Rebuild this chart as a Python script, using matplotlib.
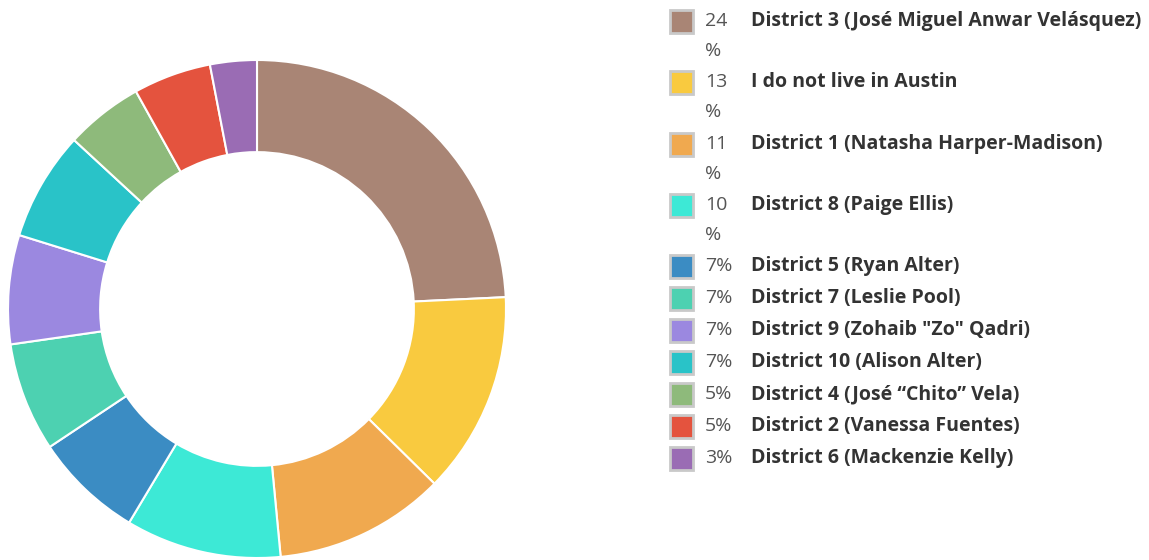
import matplotlib
matplotlib.use("Agg")
import matplotlib.pyplot as plt
from matplotlib.patches import Rectangle

plt.rcParams["font.family"] = ["Open Sans", "DejaVu Sans"]

# data
labels = [
    "District 3 (José Miguel Anwar Velásquez)",
    "I do not live in Austin",
    "District 1 (Natasha Harper-Madison)",
    "District 8 (Paige Ellis)",
    "District 5 (Ryan Alter)",
    "District 7 (Leslie Pool)",
    'District 9 (Zohaib "Zo" Qadri)',
    "District 10 (Alison Alter)",
    "District 4 (José “Chito” Vela)",
    "District 2 (Vanessa Fuentes)",
    "District 6 (Mackenzie Kelly)",
]
values = [24, 13, 11, 10, 7, 7, 7, 7, 5, 5, 3]
colors = [
    "#a98575", "#f9ca3f", "#f0a94f", "#3de9d6", "#3b8cc3", "#4dd1b1",
    "#9b88e0", "#29c3c8", "#8eba7b", "#e4533e", "#9a6cb4",
]

W, H = 1149, 560
fig = plt.figure(figsize=(W / 100, H / 100), dpi=100)

# donut
cx, cy, r = 257, 251, 249
ax = fig.add_axes([(cx - r) / W, (cy - r) / H, 2 * r / W, 2 * r / H])
ax.pie(values, colors=colors, startangle=90, counterclock=False,
       wedgeprops=dict(width=0.37, edgecolor="white", linewidth=1.5))
ax.set_xlim(-1, 1)
ax.set_ylim(-1, 1)
ax.set_aspect("equal")
ax.axis("off")

# legend drawn in pixel coordinates
lg = fig.add_axes([0, 0, 1, 1])
lg.set_xlim(0, W)
lg.set_ylim(H, 0)
lg.axis("off")

fs = 14
y = 21
for lab, v, c in zip(labels, values, colors):
    lg.add_patch(Rectangle((670, y - 11), 23, 23, facecolor=c,
                           edgecolor="#c9c9c9", linewidth=2))
    wrapped = v >= 10
    if wrapped:
        lg.text(705, y, f"{v}", fontsize=fs, color="#555555", va="center")
        lg.text(705, y + 30, "%", fontsize=fs, color="#555555", va="center")
    else:
        lg.text(705, y, f"{v}%", fontsize=fs, color="#555555", va="center")
    lg.text(751, y, lab, fontsize=fs, fontweight="bold", color="#333333",
            va="center")
    y += 61.3 if wrapped else 32

fig.savefig("out.png", dpi=100)
